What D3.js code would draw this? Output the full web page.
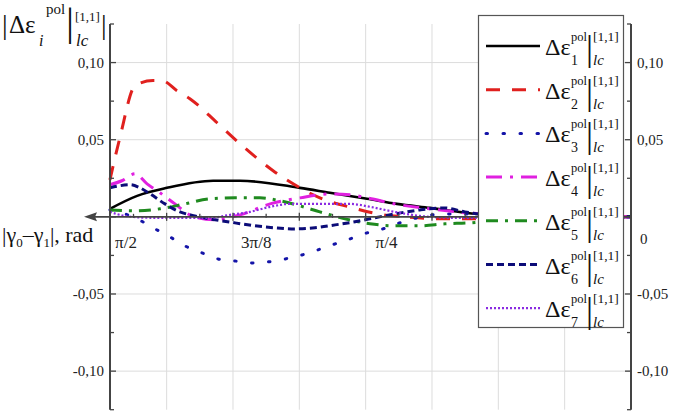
<!DOCTYPE html>
<html><head><meta charset="utf-8">
<script src="https://cdn.jsdelivr.net/npm/d3@7/dist/d3.min.js"></script>
<style>body{margin:0;background:#fff}</style>
</head><body><svg id="c" width="673" height="415"></svg>
<script>
// ---- data (x: |γ0−γ1| in rad, y: |Δε|) ----
const s1 = [[1.571,0.0052],[1.489,0.0136],[1.399,0.0188],[1.260,0.0234],[1.179,0.0234],[0.998,0.0188],[0.908,0.0156],[0.796,0.0117],[0.706,0.0084],[0.606,0.0058],[0.464,0.0019],[0.300,0.0005],[0,0]];
const s2 = [[1.571,0.024],[1.541,0.0513],[1.495,0.0851],[1.441,0.0883],[1.414,0.0883],[1.369,0.0818],[1.330,0.0766],[1.248,0.0610],[1.179,0.0474],[1.079,0.0299],[0.998,0.0188],[0.938,0.0123],[0.838,0.0058],[0.763,0.0019],[0.681,0.0],[0.576,-0.0013],[0.501,-0.0013],[0.300,-0.0005],[0,0]];
const s3 = [[1.571,0.0045],[1.495,-0.0006],[1.441,-0.0071],[1.390,-0.0130],[1.345,-0.0188],[1.293,-0.0234],[1.245,-0.0273],[1.194,-0.0286],[1.143,-0.0299],[1.094,-0.0292],[1.043,-0.0273],[0.992,-0.0247],[0.944,-0.0214],[0.892,-0.0175],[0.847,-0.0143],[0.796,-0.0104],[0.748,-0.0078],[0.697,-0.0039],[0.645,-0.0006],[0.597,0.0013],[0.516,0.0019],[0.300,0.0008],[0,0]];
const s4 = [[1.571,0.0208],[1.535,0.0234],[1.495,0.0279],[1.459,0.0214],[1.420,0.0156],[1.375,0.0084],[1.324,0.0006],[1.254,-0.0019],[1.179,0.0013],[1.088,0.0084],[0.998,0.0123],[0.908,0.0149],[0.847,0.0143],[0.796,0.0123],[0.697,0.0078],[0.606,0.0052],[0.495,0.0026],[0.395,0.0013],[0.200,0.0005],[0,0]];
const s5 = [[1.571,0.0045],[1.495,0.0039],[1.420,0.0052],[1.345,0.0084],[1.269,0.0117],[1.194,0.0123],[1.119,0.0123],[1.058,0.0104],[0.998,0.0071],[0.938,0.0032],[0.862,-0.0013],[0.787,-0.0045],[0.712,-0.0058],[0.636,-0.0058],[0.561,-0.0045],[0.486,-0.0039],[0.395,-0.0019],[0.274,-0.0006],[0,0]];
const s6 = [[1.571,0.0188],[1.510,0.0208],[1.480,0.0188],[1.450,0.0149],[1.405,0.0084],[1.360,0.0032],[1.315,0.0006],[1.254,-0.0019],[1.194,-0.0039],[1.134,-0.0058],[1.073,-0.0071],[1.013,-0.0078],[0.953,-0.0071],[0.892,-0.0052],[0.832,-0.0032],[0.772,-0.0006],[0.712,0.0019],[0.636,0.0045],[0.561,0.0058],[0.501,0.0032],[0.425,0.0013],[0,0]];
const s7 = [[1.571,0.0032],[1.526,0.0006],[1.450,-0.0006],[1.269,-0.0006],[1.209,0.0013],[1.149,0.0032],[1.088,0.0065],[1.028,0.0084],[0.847,0.0084],[0.787,0.0065],[0.712,0.0032],[0.636,0.0006],[0.546,-0.0006],[0.455,-0.0006],[0,-0.0006]];
const seriesNums = ["1","2","3","4","5","6","7"];
const yTickValues = [0.10, 0.05, -0.05, -0.10];
const yTickLabels = ["0,10", "0,05", "-0,05", "-0,10"];
const xGridValues = [1.4, 1.2, 1.0, 0.8, 0.6, 0.4, 0.2];
const xTickLabels = ["π/2", "3π/8", "π/4"];
const xTickValues = [Math.PI/2, 3*Math.PI/8, Math.PI/4];

const styles = [
  {c:"#000000", w:2.6, d:null, cap:"butt"},
  {c:"#e0201e", w:3, d:"14,12", cap:"butt"},
  {c:"#1414a8", w:3, d:"1.5,15.5", cap:"round"},
  {c:"#e020e0", w:3, d:"16,8,3,8", cap:"butt"},
  {c:"#1f8a1f", w:3, d:"12,7,3,7", cap:"butt"},
  {c:"#0c0c78", w:3, d:"7,4", cap:"butt"},
  {c:"#8a2be2", w:2.2, d:"2,2", cap:"butt"}
];
const data = [s1,s2,s3,s4,s5,s6,s7];
const FF = "Liberation Serif";

const svg = d3.select("#c");
const x = d3.scaleLinear().domain([Math.PI/2, 0]).range([110, 631]);
const y = d3.scaleLinear().domain([-0.125, 0.125]).range([409.7, 24]);
const axisCol = "#444";

// grid
svg.append("g").selectAll("line").data(xGridValues).join("line")
  .attr("x1", d=>x(d)).attr("x2", d=>x(d)).attr("y1", y(0.125)).attr("y2", y(-0.125))
  .attr("stroke", "#dcdcdc").attr("stroke-width", 1);
svg.append("g").selectAll("line").data(yTickValues).join("line")
  .attr("x1", x(Math.PI/2)).attr("x2", x(0)).attr("y1", d=>y(d)).attr("y2", d=>y(d))
  .attr("stroke", "#dcdcdc").attr("stroke-width", 1);

// curves
const line = d3.line().x(d=>x(d[0])).y(d=>y(d[1])).curve(d3.curveMonotoneX);
const plot = svg.append("g");
data.forEach((s,i)=>{
  const st = styles[i];
  plot.append("path").datum(s).attr("d", line).attr("fill","none")
    .attr("stroke", st.c).attr("stroke-width", st.w)
    .attr("stroke-dasharray", st.d).attr("stroke-linecap", st.cap).attr("stroke-linejoin","round");
});

// x axis (zero line with arrow to the left)
svg.append("line").attr("x1", 92).attr("x2", x(0)).attr("y1", y(0)).attr("y2", y(0))
  .attr("stroke", axisCol).attr("stroke-width", 1.6);
svg.append("path").attr("d", `M84,${y(0)} L97,${y(0)-4.5} L95,${y(0)} L97,${y(0)+4.5} Z`).attr("fill", axisCol);
const xt = d3.range(1, 16).map(k => k/10);
svg.append("g").selectAll("line").data(xt).join("line")
  .attr("x1", d=>x(d)).attr("x2", d=>x(d))
  .attr("y1", (d,i)=> (i%2===1) ? y(0)-4 : y(0)-3)
  .attr("y2", (d,i)=> (i%2===1) ? y(0)+4 : y(0)+1)
  .attr("stroke", axisCol).attr("stroke-width", 1.3);
svg.append("g").selectAll("text").data(xTickLabels).join("text")
  .attr("font-family", FF)
  .attr("x", (d,i)=> x(xTickValues[i]) + 16).attr("y", 248)
  .attr("text-anchor","middle").attr("font-size", 17).attr("fill","#222").text(d=>d);

// y axes
const yMinor = d3.range(-5, 6).map(k => k*0.025);
[[110, 1], [631, -1]].forEach(([ax, dir])=>{
  svg.append("line").attr("x1", ax).attr("x2", ax).attr("y1", y(0.125)).attr("y2", y(-0.125))
    .attr("stroke", axisCol).attr("stroke-width", 2);
  svg.append("g").selectAll("line").data(yMinor).join("line")
    .attr("x1", ax).attr("x2", d => ax + dir*((Math.round(d*40)%2===0) ? 6 : 4))
    .attr("y1", d=>y(d)).attr("y2", d=>y(d))
    .attr("stroke", axisCol).attr("stroke-width", 1.3);
});
svg.append("g").selectAll("text").data(yTickValues).join("text")
  .attr("font-family", FF)
  .attr("x", 104).attr("y", d=>y(d)).attr("dy","0.33em").attr("text-anchor","end")
  .attr("font-size", 15).attr("fill","#222").text((d,i)=>yTickLabels[i]);
svg.append("g").selectAll("text").data(yTickValues).join("text")
  .attr("font-family", FF)
  .attr("x", 637).attr("y", d=>y(d)).attr("dy","0.33em").attr("text-anchor","start")
  .attr("font-size", 15).attr("fill","#222").text((d,i)=>yTickLabels[i]);
svg.append("text").attr("font-family", FF).attr("x", 640).attr("y", y(0)+22).attr("dy","0.33em")
  .attr("font-size", 15).attr("fill","#222").text("0");

// y-axis title |Δε_i^pol|_lc^[1,1]|  (one text, positioned tspans)
const t = svg.append("text").attr("font-family", FF).attr("fill", "#111").attr("font-size", 28);
t.append("tspan").attr("x", 2).attr("y", 34).text("|");
t.append("tspan").attr("x", 9).attr("y", 33).attr("font-size", 25).text("Δε");
t.append("tspan").attr("x", 46).attr("y", 14).attr("font-size", 15).text("pol");
t.append("tspan").attr("x", 39).attr("y", 46).attr("font-size", 16).attr("font-style","italic").text("i");
t.append("tspan").attr("x", 66).attr("y", 35).attr("font-size", 40).text("|");
t.append("tspan").attr("x", 75).attr("y", 21).attr("font-size", 13).text("[1,1]");
t.append("tspan").attr("x", 76).attr("y", 46).attr("font-size", 17).attr("font-style","italic").text("lc");
t.append("tspan").attr("x", 101).attr("y", 34).text("|");

// x-axis title
const xtit = svg.append("text").attr("font-family", FF).attr("x", 2).attr("y", 242).attr("font-size", 22).attr("fill","#111");
xtit.append("tspan").text("|γ");
xtit.append("tspan").attr("font-size", 13).attr("dy", 5).text("0");
xtit.append("tspan").attr("dy", -5).text("–γ");
xtit.append("tspan").attr("font-size", 13).attr("dy", 5).text("1");
xtit.append("tspan").attr("dy", -5).text("|, rad");

// legend
const lg = svg.append("g");
lg.append("rect").attr("x", 478.5).attr("y", 15.5).attr("width", 145).attr("height", 312)
  .attr("fill","#fff").attr("stroke","#555").attr("stroke-width", 1.2);
seriesNums.forEach((n,i)=>{
  const y0 = 46 + i*43.7;
  const st = styles[i];
  lg.append("line").attr("x1", 486).attr("x2", 540).attr("y1", y0).attr("y2", y0)
    .attr("stroke", st.c).attr("stroke-width", st.w).attr("stroke-dasharray", st.d).attr("stroke-linecap", st.cap);
  const g = lg.append("text").attr("font-family", FF).attr("fill","#111").attr("font-size", 14);
  g.append("tspan").attr("x", 545).attr("y", y0+9).attr("font-size", 24).text("Δε");
  g.append("tspan").attr("x", 571).attr("y", y0-5).attr("font-size", 12.5).text("pol");
  g.append("tspan").attr("x", 571).attr("y", y0+19).text(n);
  g.append("tspan").attr("x", 586).attr("y", y0+14).attr("font-size", 35).text("|");
  g.append("tspan").attr("x", 593).attr("y", y0-5).attr("font-size", 13.5).text("[1,1]");
  g.append("tspan").attr("x", 593).attr("y", y0+19).attr("font-size", 15).attr("font-style","italic").text("lc");
});
</script></body></html>
